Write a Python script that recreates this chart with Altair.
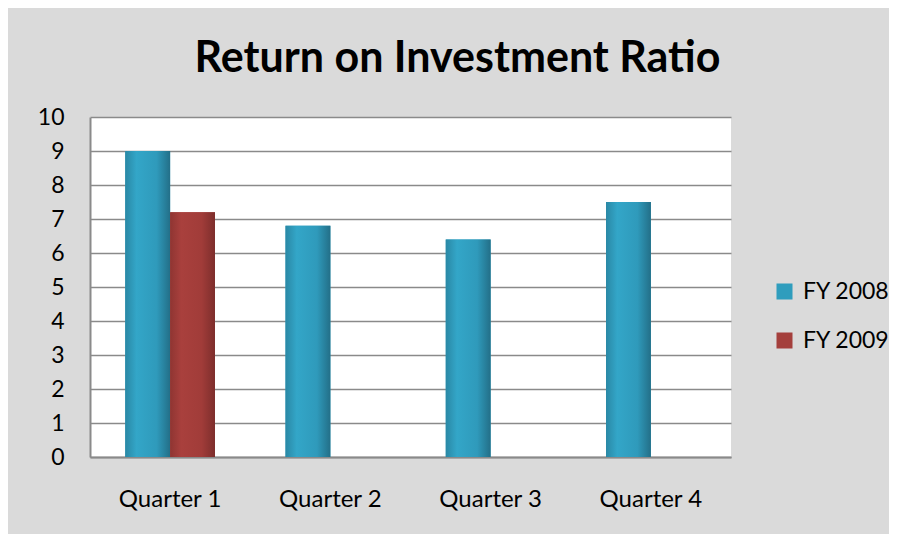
import altair as alt
import pandas as pd

quarters = ["Quarter 1", "Quarter 2", "Quarter 3", "Quarter 4"]
series = ["FY 2008", "FY 2009"]
fy2008 = [9.0, 6.8, 6.4, 7.5]
fy2009 = [7.2, None, None, None]
y_ticks = list(range(0, 11))

rows = []
for q, a, b in zip(quarters, fy2008, fy2009):
    if a is not None:
        rows.append({"quarter": q, "series": "FY 2008", "value": a})
    if b is not None:
        rows.append({"quarter": q, "series": "FY 2009", "value": b})
df = pd.DataFrame(rows)

FONT = "Lato"

blue_grad = alt.Gradient(
    gradient="linear", x1=0, x2=1, y1=0, y2=0,
    stops=[
        alt.GradientStop(color="#2a88a5", offset=0),
        alt.GradientStop(color="#33a6c8", offset=0.25),
        alt.GradientStop(color="#2f9abb", offset=0.7),
        alt.GradientStop(color="#236f88", offset=1),
    ],
)
red_grad = alt.Gradient(
    gradient="linear", x1=0, x2=1, y1=0, y2=0,
    stops=[
        alt.GradientStop(color="#8f3532", offset=0),
        alt.GradientStop(color="#a9403d", offset=0.25),
        alt.GradientStop(color="#a13c39", offset=0.7),
        alt.GradientStop(color="#7d2e2c", offset=1),
    ],
)

x_enc = alt.X(
    "quarter:N",
    sort=quarters,
    scale=alt.Scale(paddingInner=0.44, paddingOuter=0.22),
    axis=alt.Axis(
        title=None, labelAngle=0, labelFont=FONT, labelFontSize=24,
        labelColor="black", labelPadding=30, ticks=False,
        domainColor="#8a8a8a", domainWidth=2, grid=False,
    ),
)
xoff_enc = alt.XOffset("series:N", scale=alt.Scale(domain=series, paddingInner=0, paddingOuter=0))
y_enc = alt.Y(
    "value:Q",
    scale=alt.Scale(domain=[0, 10], nice=False),
    axis=alt.Axis(
        title=None, values=y_ticks, labelFont=FONT, labelFontSize=23,
        labelColor="black", labelPadding=26, ticks=False,
        domainColor="#8a8a8a", domainWidth=2,
        gridColor="#8a8a8a", gridWidth=1.5,
    ),
)

legend_layer = alt.Chart(df).mark_bar().encode(
    x=x_enc, xOffset=xoff_enc, y=y_enc,
    color=alt.Color(
        "series:N",
        scale=alt.Scale(domain=series, range=["#2f9dbd", "#a43f3c"]),
        legend=alt.Legend(
            title=None, orient="none", legendX=683, legendY=163,
            symbolType="square", symbolSize=256, symbolStrokeWidth=0,
            labelFont=FONT, labelFontSize=23, labelColor="black",
            labelOffset=7, rowPadding=25, padding=0,
        ),
    ),
)

blue_layer = alt.Chart(df).transform_filter(
    alt.datum.series == "FY 2008"
).mark_bar(color=blue_grad).encode(x=x_enc, xOffset=xoff_enc, y=y_enc)

red_layer = alt.Chart(df).transform_filter(
    alt.datum.series == "FY 2009"
).mark_bar(color=red_grad).encode(x=x_enc, xOffset=xoff_enc, y=y_enc)

chart = alt.layer(legend_layer, blue_layer, red_layer).properties(
    width=641,
    height=340,
    title=alt.TitleParams(
        "Return on Investment Ratio",
        font=FONT, fontSize=43, fontWeight="bold", color="black",
        anchor="middle", frame="group", dx=47, dy=43, offset=34,
        baseline="alphabetic",
    ),
    autosize=alt.AutoSizeParams(type="none"),
    padding={"left": 82, "top": 109, "right": 158, "bottom": 77},
    background="#dadada",
).configure_view(fill="white", stroke=None)

chart.save("out.html", embed_options={"renderer": "svg", "actions": False})
